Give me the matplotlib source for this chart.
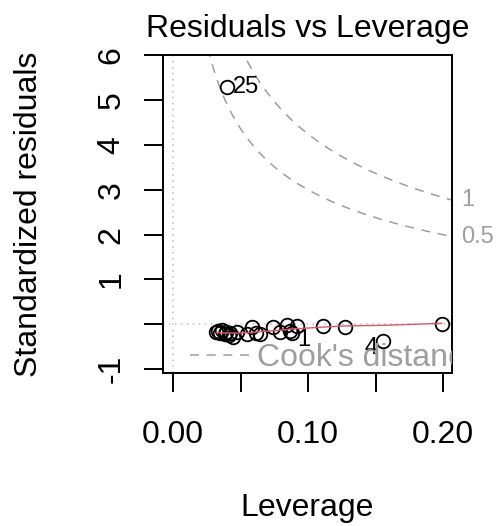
import numpy as np
import matplotlib
matplotlib.use("Agg")
import matplotlib.pyplot as plt
from matplotlib.lines import Line2D

plt.rcParams['font.family'] = ['Liberation Sans', 'DejaVu Sans']
plt.rcParams['lines.scale_dashes'] = False

# Hat values (leverage) and standardized residuals, observations 1..25
leverage = [0.088, 0.0335, 0.0586, 0.1555, 0.035, 0.0364, 0.038, 0.039,
            0.041, 0.042, 0.0446, 0.0475, 0.032, 0.0616, 0.0645, 0.074,
            0.079, 0.0845, 0.0867, 0.0919, 0.111, 0.127, 0.1988, 0.055,
            0.040]
std_resid = [-0.20, -0.16, -0.07, -0.37, -0.20, -0.13, -0.22, -0.18,
             -0.24, -0.20, -0.29, -0.18, -0.18, -0.20, -0.22, -0.07,
             -0.18, -0.02, -0.16, -0.04, -0.04, -0.05, 0.015, -0.22,
             5.30]
obs_id = list(range(1, 26))
labelled_ids = [25, 4, 1]
cook_levels = [0.5, 1]
n_params = 2

x_ticks = [0.0, 0.05, 0.10, 0.15, 0.20]
x_ticklabels = ['0.00', '', '0.10', '', '0.20']
y_ticks = [-1, 0, 1, 2, 3, 4, 5, 6]
y_ticklabels = ['-1', '', '1', '2', '3', '4', '5', '6']

GRAY_COOK = '#9E9E9E'
GRAY_REF = '#BEBEBE'
RED = '#DF536B'
FS = 23
FS_SMALL = 17


def lowess(x, y, f=2 / 3, iters=3):
    """Robust locally weighted regression (Cleveland), as in R's lowess."""
    x = np.asarray(x, float)
    y = np.asarray(y, float)
    o = np.argsort(x, kind='stable')
    x, y = x[o], y[o]
    n = len(x)
    ns = max(min(int(f * n + 1e-7), n), 2)
    rw = np.ones(n)
    fit = np.zeros(n)
    for it in range(iters + 1):
        for i in range(n):
            d = np.abs(x - x[i])
            h = np.sort(d)[ns - 1]
            h9, h1 = 0.999 * h, 0.001 * h
            w = np.where(d <= h9, np.where(d > h1, (1 - (d / h) ** 3) ** 3, 1.0), 0.0) * rw
            sw = w.sum()
            if sw <= 0:
                fit[i] = y[i]
                continue
            w = w / sw
            xm = (w * x).sum()
            c = (w * (x - xm) ** 2).sum()
            if np.sqrt(c) > 0.001 * (x[-1] - x[0]):
                wt = w * (1 + (x - xm) * (x[i] - xm) / c)
                fit[i] = (wt * y).sum()
            else:
                fit[i] = (w * y).sum()
        if it < iters:
            res = y - fit
            cmad = 6 * np.median(np.abs(res))
            r = np.abs(res)
            rw = np.where(r <= 0.001 * cmad, 1.0,
                          np.where(r > 0.999 * cmad, 0.0, (1 - (r / cmad) ** 2) ** 2))
    return x, fit


W, H = 497, 526
fig = plt.figure(figsize=(W / 100, H / 100), dpi=100)
L, R_, T, B = 162.7, 452.3, 55.0, 372.7
ax = fig.add_axes([L / W, 1 - B / H, (R_ - L) / W, (B - T) / H])

ax.set_xlim(-0.0078, 0.2067)
ax.set_ylim(-1.08, 6.01)

# reference lines at zero
ax.axhline(0, color=GRAY_REF, lw=1.1, dashes=(1.1, 3.2), zorder=1)
ax.axvline(0, color=GRAY_REF, lw=1.1, dashes=(1.1, 3.2), zorder=1)

# points
ax.plot(leverage, std_resid, ls='none', marker='o', ms=9.8, mfc='none',
        mec='black', mew=1.3, zorder=3)

# smoother
sx, sy = lowess(leverage, std_resid)
ax.plot(sx, sy, color=RED, lw=1.0, zorder=4)

# Cook's distance contours
xmax = ax.get_xlim()[1]
hh = np.linspace(min(min(leverage), max(leverage) / 100), xmax, 101)
for crit in cook_levels:
    cl = np.sqrt(crit * n_params * (1 - hh) / hh)
    ax.plot(hh, cl, color=GRAY_COOK, lw=1.1, dashes=(6.5, 5.5), zorder=2)
    ax.plot(hh, -cl, color=GRAY_COOK, lw=1.1, dashes=(6.5, 5.5), zorder=2)
    aty = np.sqrt(crit) * np.sqrt(n_params * (1 - xmax) / xmax)
    ax.annotate(f"{crit:g}", xy=(1.0, aty), xycoords=('axes fraction', 'data'),
                xytext=(6.5, 0), textcoords='offset points', ha='left', va='center',
                fontsize=FS_SMALL, color=GRAY_COOK, annotation_clip=False)

# labels for the most influential observations
xmid = (min(leverage) + max(leverage)) / 2
for k in labelled_ids:
    hx, ry = leverage[k - 1], std_resid[k - 1]
    dy = -5 if ry < 0 else 0
    if hx > xmid:
        ax.annotate(str(k), xy=(hx, ry), xytext=(-4, dy), textcoords='offset points',
                    ha='right', va='center', fontsize=FS_SMALL, color='black', zorder=5)
    else:
        ax.annotate(str(k), xy=(hx, ry), xytext=(4, dy), textcoords='offset points',
                    ha='left', va='center', fontsize=FS_SMALL, color='black', zorder=5)

# legend
handle = Line2D([], [], color=GRAY_COOK, lw=1.1, dashes=(6.5, 5.5))
leg = ax.legend([handle], ["Cook's distance"], loc='lower left',
                bbox_to_anchor=(0.094, 0.0), borderaxespad=0, borderpad=0,
                frameon=False, fontsize=FS, handlelength=1.85, handletextpad=0.25,
                labelcolor=GRAY_COOK)
for t in leg.get_texts():
    t.set_clip_on(True)
    t.set_clip_box(ax.bbox)

# axes styling
for s in ax.spines.values():
    s.set_linewidth(1.4)
ax.set_xticks(x_ticks)
ax.set_xticklabels(x_ticklabels)
ax.set_yticks(y_ticks)
ax.set_yticklabels(y_ticklabels, rotation=90, va='center')
ax.tick_params(axis='both', direction='out', length=14, width=1.4, labelsize=FS)
ax.tick_params(axis='x', pad=20)
ax.tick_params(axis='y', pad=12)

ax.set_title("Residuals vs Leverage", fontsize=FS, pad=13)
ax.set_xlabel("Leverage", fontsize=FS)
ax.set_ylabel("Standardized residuals", fontsize=FS)
ax.xaxis.set_label_coords(0.5, -0.425)
ax.xaxis.label.set_va('center')
ax.yaxis.set_label_coords(-0.462, 0.5)
ax.yaxis.label.set_va('center')

fig.savefig("out.png", dpi=100)
